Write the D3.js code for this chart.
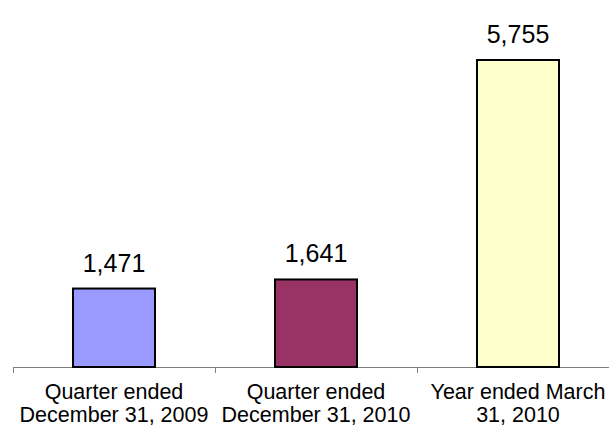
<!DOCTYPE html>
<html>
<head>
<meta charset="utf-8">
<script src="https://cdn.jsdelivr.net/npm/d3@7"></script>
<style>
html,body{margin:0;padding:0;background:#fff;overflow:hidden;}
svg{display:block;}
text{font-family:"Liberation Sans",Arial,sans-serif;fill:#000;}
</style>
</head>
<body>
<svg id="chart" width="609" height="425"></svg>
<script>
const categories = [
  ["Quarter ended", "December 31, 2009"],
  ["Quarter ended", "December 31, 2010"],
  ["Year ended March", "31, 2010"]
];
const values = [1471, 1641, 5755];
const colors = ["#9999FF", "#993366", "#FFFFCC"];

const svg = d3.select("#chart");
const keys = categories.map((c, i) => i);

const x = d3.scaleBand().domain(keys).range([13, 619]).padding(0);
const y = d3.scaleLinear().domain([0, 5755]).range([367, 60]);
const barW = x.bandwidth() * 0.406;

// axis line
svg.append("line")
  .attr("x1", x.range()[0]).attr("x2", x.range()[1])
  .attr("y1", y(0) + 0.5).attr("y2", y(0) + 0.5)
  .attr("stroke", "#808080").attr("stroke-width", 1);

// ticks at band boundaries
const bounds = keys.map(k => x(k)).concat([x.range()[1]]);
svg.selectAll(".tick").data(bounds).enter().append("line")
  .attr("x1", d => Math.round(d) + 0.5).attr("x2", d => Math.round(d) + 0.5)
  .attr("y1", y(0)).attr("y2", y(0) + 6)
  .attr("stroke", "#808080").attr("stroke-width", 1);

// bars
svg.selectAll(".bar").data(values).enter().append("rect")
  .attr("x", (d, i) => x(i) + (x.bandwidth() - barW) / 2)
  .attr("y", d => y(d))
  .attr("width", barW)
  .attr("height", d => y(0) - y(d))
  .attr("fill", (d, i) => colors[i])
  .attr("stroke", "#000").attr("stroke-width", 2);

// value labels
const fmt = d3.format(",");
svg.selectAll(".val").data(values).enter().append("text")
  .attr("x", (d, i) => x(i) + x.bandwidth() / 2)
  .attr("y", d => y(d) - 17)
  .attr("text-anchor", "middle")
  .style("font-size", "25px")
  .text(d => fmt(d));

// category labels
categories.forEach((lines, i) => {
  const t = svg.append("text")
    .attr("x", x(i) + x.bandwidth() / 2)
    .attr("y", 399)
    .attr("text-anchor", "middle")
    .style("font-size", "21.5px");
  lines.forEach((l, j) => {
    t.append("tspan").attr("x", x(i) + x.bandwidth() / 2).attr("dy", j === 0 ? 0 : 23).text(l);
  });
});
</script>
</body>
</html>
